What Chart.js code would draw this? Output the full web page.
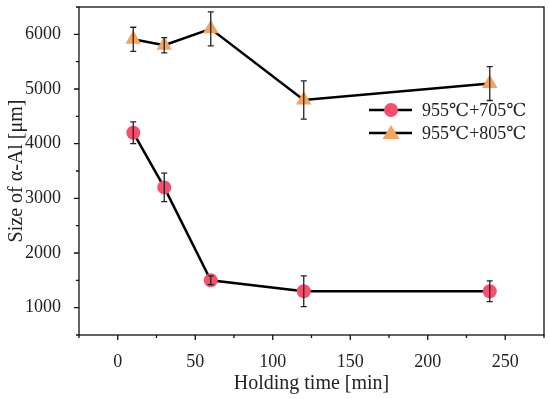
<!DOCTYPE html>
<html>
<head>
<meta charset="utf-8">
<script src="https://cdn.jsdelivr.net/npm/chart.js@4.4.0/dist/chart.umd.min.js"></script>
<style>
    html, body { margin: 0; padding: 0; background: #fff; }
    #wrap { width: 550px; height: 399px; }
</style>
</head>
<body>
<div id="wrap"><canvas id="main-chart"></canvas></div>
<script>
const times = [10, 30, 60, 120, 240];
const size_705 = [4200, 3200, 1500, 1300, 1300];
const err_705 = [200, 260, 80, 280, 190];
const size_805 = [5910, 5800, 6100, 4800, 5100];
const err_805 = [220, 140, 310, 350, 310];
const series_labels = ['955℃+705℃', '955℃+805℃'];
const x_ticks = [0, 50, 100, 150, 200, 250];
const y_ticks = [1000, 2000, 3000, 4000, 5000, 6000];

const FONT = '"Liberation Serif", "DejaVu Serif", serif';
const RED = 'rgb(246, 80, 110)';
const ORANGE = 'rgb(244, 164, 96)';

const points = (ys) => times.map((t, i) => ({ x: t, y: ys[i] }));

// error bars, frame, minor ticks and legend drawn on top
const extras = {
    id: 'extras',
    afterDatasetsDraw(chart) {
        const ctx = chart.ctx;
        const xs = chart.scales.x, ys = chart.scales.y;
        const a = chart.chartArea;
        ctx.save();
        ctx.strokeStyle = '#222';
        ctx.lineWidth = 1.3;
        [[size_705, err_705], [size_805, err_805]].forEach(([vals, errs]) => {
            vals.forEach((v, i) => {
                const px = xs.getPixelForValue(times[i]);
                const top = ys.getPixelForValue(v + errs[i]);
                const bot = ys.getPixelForValue(v - errs[i]);
                ctx.beginPath();
                ctx.moveTo(px, top); ctx.lineTo(px, bot);
                ctx.moveTo(px - 3, top); ctx.lineTo(px + 3, top);
                ctx.moveTo(px - 3, bot); ctx.lineTo(px + 3, bot);
                ctx.stroke();
            });
        });

        // frame
        ctx.strokeStyle = '#111';
        ctx.lineWidth = 1.3;
        ctx.strokeRect(a.left, a.top, a.right - a.left, a.bottom - a.top);

        // ticks (major + minor), outward
        ctx.beginPath();
        for (let v = xs.min; v <= xs.max; v += 25) {
            const px = xs.getPixelForValue(v);
            const len = (v % 50 === 0) ? 5 : 3;
            ctx.moveTo(px, a.bottom); ctx.lineTo(px, a.bottom + len);
        }
        for (let v = ys.min; v <= ys.max; v += 500) {
            const py = ys.getPixelForValue(v);
            const len = (v % 1000 === 0) ? 5 : 3;
            ctx.moveTo(a.left, py); ctx.lineTo(a.left - len, py);
        }
        ctx.stroke();

        // legend
        const lx = 369, rows = [110, 133];
        chart.data.datasets.forEach((ds, i) => {
            const y = rows[i];
            ctx.strokeStyle = '#000';
            ctx.lineWidth = 2.5;
            ctx.beginPath();
            ctx.moveTo(lx, y); ctx.lineTo(lx + 43, y);
            ctx.stroke();
            ctx.fillStyle = ds.pointBackgroundColor;
            ctx.beginPath();
            if (ds.pointStyle === 'circle') {
                ctx.arc(lx + 22, y, 7, 0, Math.PI * 2);
            } else {
                ctx.moveTo(lx + 22, y - 8);
                ctx.lineTo(lx + 30.5, y + 6);
                ctx.lineTo(lx + 13.5, y + 6);
                ctx.closePath();
            }
            ctx.fill();
            ctx.fillStyle = '#222';
            ctx.font = '18px ' + FONT;
            ctx.textBaseline = 'middle';
            ctx.textAlign = 'left';
            ctx.fillText(ds.label, 422, y + 1);
        });
        ctx.restore();
    }
};

const config = {
    type: 'line',
    data: {
        datasets: [{
            label: series_labels[0],
            data: points(size_705),
            borderColor: '#000',
            borderWidth: 2.5,
            pointStyle: 'circle',
            pointRadius: 7,
            pointBackgroundColor: RED,
            pointBorderColor: RED,
            pointBorderWidth: 0,
        }, {
            label: series_labels[1],
            data: points(size_805),
            borderColor: '#000',
            borderWidth: 2.5,
            pointStyle: 'triangle',
            pointRadius: 9,
            pointBackgroundColor: ORANGE,
            pointBorderColor: ORANGE,
            pointBorderWidth: 0,
        }]
    },
    options: {
        responsive: true,
        maintainAspectRatio: false,
        animation: false,
        layout: {
            autoPadding: false,
            padding: { top: 7, right: 6, left: 0, bottom: 0 }
        },
        plugins: {
            legend: { display: false },
            tooltip: { enabled: false },
        },
        scales: {
            x: {
                type: 'linear',
                min: -25,
                max: 275,
                afterBuildTicks: (s) => { s.ticks = x_ticks.map(v => ({ value: v })); },
                afterFit: (s) => { s.height = 64; s.paddingLeft = 0; s.paddingRight = 0; },
                grid: { display: false },
                border: { display: false },
                ticks: {
                    color: '#222',
                    padding: 8,
                    maxRotation: 0,
                    font: { family: FONT, size: 18 },
                    callback: (v) => String(v),
                },
                title: {
                    display: true,
                    text: 'Holding time [min]',
                    color: '#222',
                    font: { family: FONT, size: 20 },
                    padding: { top: 0, bottom: 3 },
                },
            },
            y: {
                min: 500,
                max: 6500,
                afterBuildTicks: (s) => { s.ticks = y_ticks.map(v => ({ value: v })); },
                afterFit: (s) => { s.width = 79; s.paddingTop = 0; s.paddingBottom = 0; },
                grid: { display: false },
                border: { display: false },
                ticks: {
                    color: '#222',
                    padding: 10,
                    font: { family: FONT, size: 18 },
                    callback: (v) => String(v),
                },
                title: {
                    display: true,
                    text: 'Size of α-Al [μm]',
                    color: '#222',
                    font: { family: FONT, size: 20 },
                    padding: { top: 5, bottom: 0 },
                },
            }
        }
    },
    plugins: [extras]
};

const myChart = new Chart(document.getElementById('main-chart'), config);
</script>
</body>
</html>
